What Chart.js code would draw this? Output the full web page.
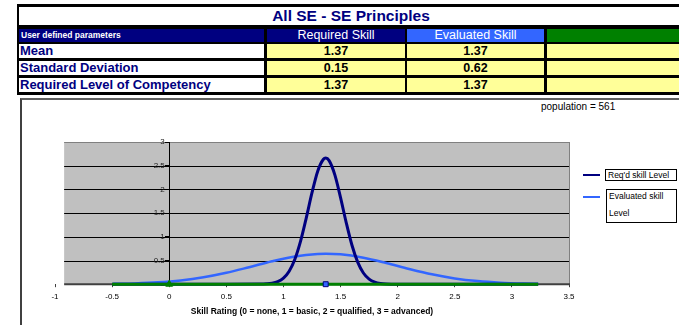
<!DOCTYPE html>
<html>
<head>
<meta charset="utf-8">
<script src="https://cdn.jsdelivr.net/npm/chart.js@4/dist/chart.umd.min.js"></script>
<style>
  html,body{margin:0;padding:0;background:#fff;width:679px;height:325px;overflow:hidden;font-family:"Liberation Sans",Arial,sans-serif;}
  .abs{position:absolute;}
  #tbl{position:absolute;left:17px;top:4px;width:700px;height:91px;background:#000;}
  #tbl div{position:absolute;box-sizing:border-box;white-space:nowrap;overflow:hidden;}
  .lbl{color:#000080;font-weight:bold;font-size:13px;line-height:14px;padding-left:1px;background:#fff;}
  .val{color:#000;font-weight:bold;font-size:12.5px;line-height:14px;text-align:center;background:#ffff99;}
  .hd{color:#fff;font-size:12.5px;line-height:13px;text-align:center;}
  #frame{position:absolute;left:20px;top:98px;width:700px;height:260px;border-left:2px solid #404040;border-top:2px solid #606060;}
  #wrap{position:absolute;left:0;top:0;width:679px;height:325px;}
  .legline{position:absolute;height:2px;}
  .legbox{position:absolute;border:1px solid #000;background:#fff;font-size:8.5px;color:#000;box-sizing:border-box;}
</style>
</head>
<body>
<div id="tbl"></div>
<div id="frame"></div>
<div class="abs" id="pop" style="left:541px;top:101px;font-size:10px;line-height:12px;color:#000;"></div>
<div id="wrap"><canvas id="c" width="679" height="325"></canvas></div>
<div id="legend"></div>
<script>
// ---------- data ----------
const chartTitle = 'All SE - SE Principles';
const paramHeader = 'User defined parameters';
const columnHeads = ['Required Skill', 'Evaluated Skill', ''];
const rowLabels = ['Mean', 'Standard Deviation', 'Required Level of Competency'];
const requiredSkill = [1.37, 0.15, 1.37];
const evaluatedSkill = [1.37, 0.62, 1.37];
const populationText = 'population = 561';

const seriesNames = ["Req'd skill Level", 'Evaluated skill Level'];

// Required skill curve
const reqX = [-0.5, 0.5, 0.8, 0.85, 0.9, 0.95, 1.0, 1.05, 1.1, 1.15, 1.2, 1.25, 1.3, 1.35, 1.37, 1.4, 1.45, 1.5, 1.55, 1.6, 1.65, 1.7, 1.75, 1.8, 1.85, 1.9, 2.0, 2.5, 3.23];
const reqY = [0, 0, 0.002, 0.007, 0.02, 0.053, 0.127, 0.273, 0.526, 0.907, 1.40, 1.93, 2.385, 2.636, 2.66, 2.607, 2.307, 1.827, 1.295, 0.821, 0.466, 0.236, 0.107, 0.044, 0.016, 0.005, 0, 0, 0];

// Evaluated skill curve
const evalX = [-0.49, -0.3, -0.1, 0.1, 0.3, 0.5, 0.7, 0.9, 1.1, 1.3, 1.37, 1.5, 1.7, 1.9, 2.1, 2.3, 2.5, 2.7, 2.9, 3.1, 3.23];
const evalY = [0.007, 0.017, 0.039, 0.079, 0.145, 0.24, 0.359, 0.483, 0.585, 0.639, 0.643, 0.63, 0.559, 0.447, 0.322, 0.209, 0.122, 0.065, 0.031, 0.013, 0.007];

// Green baseline and markers
const baseX = [-0.5, 3.23];
const baseY = [0, 0];
const triangleX = [0];
const triangleY = [0];
const squareX = [1.37];
const squareY = [0];

const xAxisTitle = 'Skill Rating (0 = none, 1 = basic, 2 = qualified, 3 = advanced)';
const xMin = -1, xMax = 3.5, yMin = 0, yMax = 3, tickStep = 0.5;

// ---------- table ----------
const tbl = document.getElementById('tbl');
function cell(cls, left, top, w, h, text, style) {
  const d = document.createElement('div');
  d.className = cls;
  d.style.left = left + 'px'; d.style.top = top + 'px';
  d.style.width = w + 'px'; d.style.height = h + 'px';
  if (style) Object.assign(d.style, style);
  d.textContent = text;
  tbl.appendChild(d);
  return d;
}
cell('', 2, 3, 698, 18, '', {background: '#fff'});
cell('', 2, 3, 664, 18, chartTitle, {color: '#000080', fontWeight: 'bold', fontSize: '15.5px', lineHeight: '18px', textAlign: 'center'});
const colL = [250, 390, 530], colW = [138, 137, 170];
const headBg = ['#000080', '#3366ff', '#008000'];
cell('', 2, 25, 245, 13, paramHeader, {background: '#000080', color: '#fff', fontWeight: 'bold', fontSize: '8.5px', lineHeight: '13px', paddingLeft: '2px'});
columnHeads.forEach((h, i) => cell('hd', colL[i], 25, colW[i], 13, h, {background: headBg[i]}));
const rowTop = [40, 57, 74];
rowLabels.forEach((r, i) => {
  cell('lbl', 2, rowTop[i], 245, 14, r);
  cell('val', colL[0], rowTop[i], colW[0], 14, requiredSkill[i].toFixed(2));
  cell('val', colL[1], rowTop[i], colW[1], 14, evaluatedSkill[i].toFixed(2));
  cell('val', colL[2], rowTop[i], colW[2], 14, '');
});
document.getElementById('pop').textContent = populationText;

// ---------- chart ----------
const toPts = (xs, ys) => xs.map((x, i) => ({x: x, y: ys[i]}));
const plotStartX = -0.92;
const fmt = v => String(Math.round(v * 10) / 10);

const plotBg = {
  id: 'plotBg',
  beforeDraw(chart) {
    const {ctx, chartArea: {top, bottom, right}, scales: {x, y}} = chart;
    const left = x.getPixelForValue(plotStartX);
    ctx.save();
    ctx.fillStyle = '#c0c0c0';
    ctx.fillRect(left, top, right - left, bottom - top);
    y.ticks.forEach(t => {
      if (t.value === yMin) return;
      const py = Math.round(y.getPixelForValue(t.value)) + 0.5;
      ctx.strokeStyle = t.value === yMax ? '#808080' : '#000';
      ctx.lineWidth = 1;
      ctx.beginPath(); ctx.moveTo(left, py); ctx.lineTo(right, py); ctx.stroke();
    });
    ctx.strokeStyle = '#808080';
    ctx.beginPath(); ctx.moveTo(Math.round(right) + 0.5, top); ctx.lineTo(Math.round(right) + 0.5, bottom); ctx.stroke();
    ctx.strokeStyle = '#404040';
    ctx.lineWidth = 2;
    ctx.beginPath(); ctx.moveTo(left, bottom); ctx.lineTo(right + 1, bottom); ctx.stroke();
    ctx.restore();
  }
};

const font = {family: '"Liberation Sans", Arial, sans-serif'};
const chart = new Chart(document.getElementById('c'), {
  type: 'scatter',
  data: {
    datasets: [
      {label: seriesNames[0], order: 2, clip: false, data: toPts(reqX, reqY), showLine: true, borderColor: '#000080', borderWidth: 3, pointRadius: 0, cubicInterpolationMode: 'monotone'},
      {label: seriesNames[1], order: 3, clip: false, data: toPts(evalX, evalY), showLine: true, borderColor: '#3366ff', borderWidth: 2.5, pointRadius: 0, cubicInterpolationMode: 'monotone'},
      {label: 'base', order: 1, clip: false, data: toPts(baseX, baseY), showLine: true, borderColor: '#008000', borderWidth: 3, pointRadius: 0},
      {label: 'tri', order: 0, clip: false, data: toPts(triangleX, triangleY), pointStyle: 'triangle', pointRadius: 4, backgroundColor: '#008000', borderColor: '#008000', borderWidth: 1},
      {label: 'sq', order: 0, clip: false, data: toPts(squareX, squareY), pointStyle: 'rect', pointRadius: 3.5, backgroundColor: '#3366ff', borderColor: '#000080', borderWidth: 1}
    ]
  },
  options: {
    responsive: false,
    animation: false,
    events: [],
    layout: {padding: {left: 55, right: 110, top: 142, bottom: 8.7}},
    plugins: {legend: {display: false}, tooltip: {enabled: false}, title: {display: false}},
    scales: {
      x: {
        type: 'linear', min: xMin, max: xMax, position: 'bottom',
        ticks: {stepSize: tickStep, autoSkip: false, maxRotation: 0, padding: 5, color: '#000', font: {...font, size: 8}, callback: v => fmt(v)},
        grid: {drawOnChartArea: false, drawTicks: true, tickLength: 3, color: '#404040'},
        border: {display: false},
        title: {display: true, text: xAxisTitle, color: '#000', font: {...font, size: 8.5, weight: 'bold', lineHeight: 1}, padding: {top: 1, bottom: 0}}
      },
      y: {
        type: 'linear', min: yMin, max: yMax, position: {x: 0},
        ticks: {stepSize: tickStep, padding: 2, color: '#222', font: {...font, size: 8}, callback: v => fmt(v) + '  '},
        grid: {drawOnChartArea: false, drawTicks: true, tickLength: 4, color: '#000'},
        border: {display: true, color: '#000', width: 1}
      }
    }
  },
  plugins: [plotBg]
});

// ---------- legend ----------
const leg = document.getElementById('legend');
const legColors = ['#000080', '#3366ff'];
const legLineY = [175, 197];
const legBox = [{l: 605, t: 169, w: 72, h: 12}, {l: 606, t: 189, w: 71, h: 34}];
seriesNames.forEach((n, i) => {
  const ln = document.createElement('div');
  ln.className = 'legline';
  ln.style.cssText += `left:583px;top:${legLineY[i] - 1}px;width:17px;background:${legColors[i]};`;
  leg.appendChild(ln);
  const b = document.createElement('div');
  b.className = 'legbox';
  b.style.cssText += `left:${legBox[i].l}px;top:${legBox[i].t}px;width:${legBox[i].w}px;height:${legBox[i].h}px;`;
  if (i === 0) {
    b.style.lineHeight = '10px'; b.style.paddingLeft = '2px';
    b.textContent = n;
  } else {
    const words = n.split(' ');
    const l1 = words.slice(0, 2).join(' '), l2 = words.slice(2).join(' ');
    [l1, l2].forEach((t, k) => {
      const s = document.createElement('div');
      s.style.cssText = `position:absolute;left:2px;top:${k === 0 ? 1 : 18}px;line-height:10px;white-space:nowrap;`;
      s.textContent = t;
      b.appendChild(s);
    });
  }
  leg.appendChild(b);
});
</script>
</body>
</html>
